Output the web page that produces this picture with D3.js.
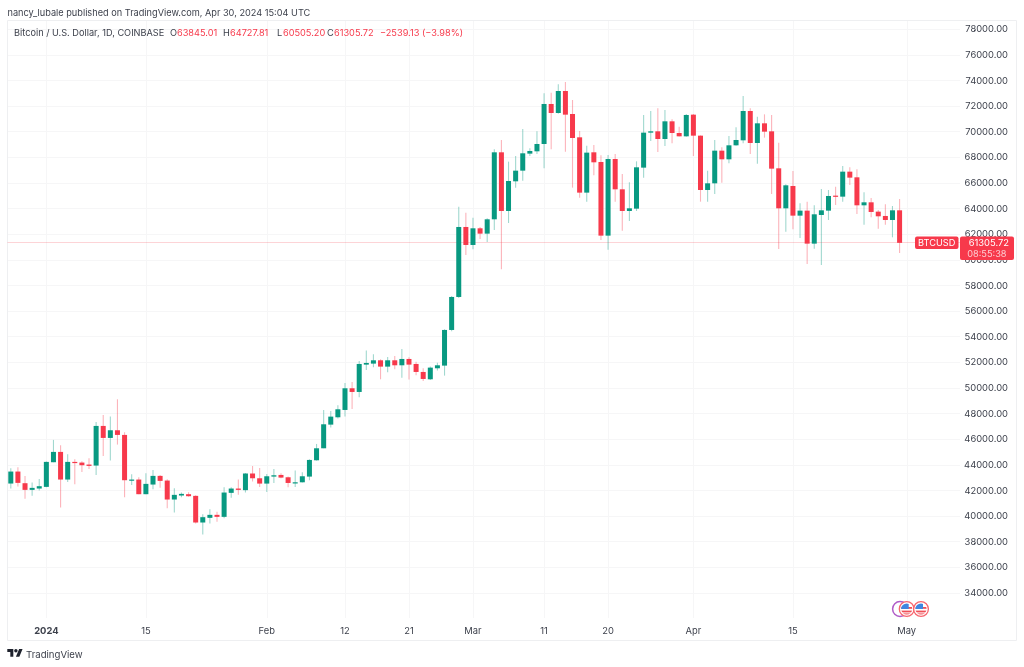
<!DOCTYPE html>
<html><head><meta charset="utf-8">
<script src="https://cdn.jsdelivr.net/npm/d3@7/dist/d3.min.js"></script>
<style>
html,body{margin:0;padding:0;background:#fff}
svg{display:block;filter:blur(.3px)}
text{font-family:Inter,Roboto,"Liberation Sans",sans-serif}
</style></head><body>
<svg id="c" width="1024" height="667"></svg>
<script>
const firstDay = "2023-12-27";
const opens  = [42514,43450,42540,42020,42124,42254,44178,44984,42826,44204,44152,43996,43918,47012,46076,46674,46310,42748,42826,41682,42436,43112,42748,41266,41578,41682,41552,39472,39836,40070,39914,41786,42124,41998,43298,42926,42510,43056,43186,43004,42534,42612,43056,44330,45267,47114,47687,48259,49951,49664,51798,51876,52136,51642,52136,51746,52240,51850,51226,50653,51512,51720,54504,57080,62544,61139,62440,62024,63143,68373,63793,66109,66941,68269,68451,69023,72146,71443,73160,71365,69543,65225,68373,67618,61868,67852,65484,63793,63975,67176,69908,70012,69413,70792,69881,69621,71313,69673,65432,65952,68502,67826,68919,69309,71599,69101,70636,70011,67123,64001,65744,63429,63819,61243,63481,63819,64990,64911,66863,66421,64235,64469,63741,63403,63090,63845.01];
const highs  = [43710,43790,43112,42592,42878,44230,45920,45504,44802,44412,44256,44490,47324,47870,47740,49092,46518,43242,43008,43320,43580,43190,42852,42150,41812,41838,41604,40122,40512,40304,42228,42228,42826,43330,43888,43730,43264,43654,43316,43056,43524,43394,44408,45605,48259,48181,48623,50367,50445,52084,52891,52605,52214,52396,52474,53021,52370,52032,51512,51642,51954,54560,57150,64131,63663,63273,62544,63221,68607,69335,67644,68087,70194,68685,70012,72978,73030,73681,73863,72458,70038,68893,68945,68139,68165,68243,66681,66031,67670,71287,71599,71807,71677,70948,70376,71365,71365,69700,66941,69335,68762,69647,70324,72770,71807,71156,71338,71286,69127,65874,66915,64391,64521,64235,65510,65432,65692,67305,67201,67045,65250,64807,63871,64313,64183,64727.81];
const lows   = [42124,42280,41318,41552,41968,42228,44178,40642,42644,42462,43424,43658,43190,44672,44308,45556,41448,42410,41682,41682,42072,42176,40590,40252,41448,41474,39394,38536,39394,39524,39810,41396,41630,41806,42665,42250,41858,42560,42926,42224,42250,42586,42770,44304,45267,46880,47583,47739,48337,49248,51382,51590,50653,51200,51434,50783,50627,50965,50523,50601,51330,50939,54400,57000,60358,60801,61608,61373,62310,59240,62856,65615,66161,68087,68243,67124,68607,71391,68425,65615,64834,64522,66577,61529,60775,64522,62258,63013,63793,66395,69257,68399,68867,69075,69600,69595,68086,64521,64521,65120,66004,67514,68893,69075,68242,67488,69517,65120,60826,62180,62362,61685,59656,60852,59578,63090,64261,64521,65822,63559,62726,63299,62414,62726,61737,60505.20];
const closes = [43450,42566,42020,42176,42306,44204,44984,42826,44204,44152,43944,43892,47012,46076,46674,46310,42774,42826,41682,42488,43112,42722,41266,41630,41708,41526,39472,39888,40070,39914,41812,42124,42020,43298,42926,42510,43082,43160,42978,42560,42612,43082,44356,45267,47140,47739,48311,49951,49664,51850,51928,52136,51642,52136,51746,52240,51798,51226,50679,51564,51746,54504,57080,62544,61139,62440,62024,63143,68373,63793,66135,66941,68295,68477,69023,72146,71443,73160,71313,69491,65225,68347,67592,61868,67852,65484,63793,64001,67202,69908,70012,69413,70792,69881,69621,71287,69673,65432,65952,68502,67826,68919,69335,71599,69101,70636,69985,67097,64001,65796,63429,63819,61243,63533,63845,64964,64938,66863,66395,64235,64469,63715,63377,63090,63845,61305.72];
const priceTicks = [34000,36000,38000,40000,42000,44000,46000,48000,50000,52000,54000,56000,58000,60000,62000,64000,66000,68000,70000,72000,74000,76000,78000];
const dateTicks = ["2024-01-01","2024-01-15","2024-02-01","2024-02-12","2024-02-21","2024-03-01","2024-03-11","2024-03-20","2024-04-01","2024-04-15","2024-05-01"];
const dateLabels = ["2024","15","Feb","12","21","Mar","11","20","Apr","15","May"];
const headerTitle = "nancy_lubale published on TradingView.com, Apr 30, 2024 15:04 UTC";
const legendName = "Bitcoin / U.S. Dollar, 1D, COINBASE";
const legendLetters = ["O","H","L","C"];
const legendValues = ["63845.01","64727.81","60505.20","61305.72"];
const legendChange = "\u22122539.13 (\u22123.98%)";
const symbol = "BTCUSD";
const lastPrice = 61305.72;
const countdown = "08:55:38";

const UP="#089981", DOWN="#F7394B", TXT="#3d414c";
const svg=d3.select("#c");
const parse=d3.utcParse("%Y-%m-%d");
const t0=parse(firstDay);
const days=opens.map((_,i)=>d3.utcDay.offset(t0,i));
const x=d3.scaleUtc().domain([t0,parse("2024-05-01")]).range([10.8,906.7]);
const y=d3.scaleLinear().domain([34000,78000]).range([592.6,29]);
const L=7.5,R=960,T=20.5,B=618,F=640.5,RR=1016.5;

// grid
const g=svg.append("g");
g.selectAll(".h").data(priceTicks).join("line").attr("x1",L).attr("x2",R)
 .attr("y1",d=>Math.round(y(d))+.5).attr("y2",d=>Math.round(y(d))+.5).attr("stroke","#f6f6f7");
g.selectAll(".v").data(dateTicks).join("line").attr("y1",T).attr("y2",B)
 .attr("x1",d=>Math.round(x(parse(d)))+.5).attr("x2",d=>Math.round(x(parse(d)))+.5).attr("stroke","#f6f6f7");
// frame
const fr=[[L,T,L,F],[L,T,RR,T],[L,F,RR,F],[RR,T,RR,F]];
svg.selectAll(".fr").data(fr).join("line").attr("x1",d=>d[0]).attr("y1",d=>d[1]).attr("x2",d=>d[2]).attr("y2",d=>d[3]).attr("stroke","#eeeff1");

// price line
svg.append("line").attr("x1",L).attr("x2",R).attr("y1",Math.round(y(lastPrice))-.5).attr("y2",Math.round(y(lastPrice))-.5)
 .attr("stroke","#f7394b").attr("stroke-opacity",.22);

// candles
const bw=5;
const c=svg.append("g").selectAll("g").data(days).join("g");
c.append("line").attr("x1",d=>x(d)).attr("x2",d=>x(d))
 .attr("y1",(d,i)=>y(highs[i])).attr("y2",(d,i)=>y(lows[i]))
 .attr("stroke",(d,i)=>closes[i]>=opens[i]?UP:DOWN).attr("stroke-opacity",.38).attr("stroke-width",1.1);
c.append("rect").attr("x",d=>x(d)-bw/2).attr("width",bw)
 .attr("y",(d,i)=>y(Math.max(opens[i],closes[i])))
 .attr("height",(d,i)=>Math.max(1.2,Math.abs(y(opens[i])-y(closes[i]))))
 .attr("fill",(d,i)=>closes[i]>=opens[i]?UP:DOWN);

// price axis labels
svg.append("g").selectAll("text").data(priceTicks).join("text")
 .attr("x",1008).attr("y",d=>y(d)+3.4).attr("text-anchor","end").attr("font-size",9.4).attr("fill",TXT)
 .text(d=>d3.format(".2f")(d));

// date labels
svg.append("g").selectAll("text").data(dateTicks).join("text")
 .attr("x",d=>x(parse(d))).attr("y",633.5).attr("text-anchor","middle").attr("font-size",9.4).attr("fill",TXT)
 .attr("font-weight",(d,i)=>i==0?700:400).text((d,i)=>dateLabels[i]);

// header
svg.append("text").attr("x",7.5).attr("y",15.5).attr("font-size",9.2).attr("fill",TXT).text(headerTitle);
const legendLetterX=[170,223,277,327], legendValueX=[177,230,283,334];
const lgd=svg.append("g").attr("font-size",9.2);
lgd.append("text").attr("x",14).attr("y",35.5).attr("fill",TXT).text(legendName);
lgd.selectAll(".l").data(legendLetters).join("text").attr("x",(d,i)=>legendLetterX[i]).attr("y",35.5).attr("fill",TXT).text(d=>d);
lgd.selectAll(".v").data(legendValues).join("text").attr("x",(d,i)=>legendValueX[i]).attr("y",35.5).attr("fill","#F7394B").text(d=>d);
lgd.append("text").attr("x",380).attr("y",35.5).attr("fill","#F7394B").text(legendChange);

// last price labels
const ly=y(lastPrice);
svg.append("rect").attr("x",915).attr("y",ly-6.3).attr("width",43.5).attr("height",12.5).attr("rx",2).attr("fill",DOWN);
svg.append("text").attr("x",936.7).attr("y",ly+3.4).attr("text-anchor","middle").attr("font-size",9.2).attr("fill","#fff").text(symbol);
svg.append("rect").attr("x",960).attr("y",ly-6.3).attr("width",54).attr("height",23.5).attr("rx",2).attr("fill",DOWN);
svg.append("text").attr("x",1009).attr("y",ly+3.4).attr("text-anchor","end").attr("font-size",9.4).attr("fill","#fff").text(d3.format(".2f")(lastPrice));
svg.append("text").attr("x",1006.5).attr("y",ly+13.8).attr("text-anchor","end").attr("font-size",9.2).attr("fill","#fff").attr("fill-opacity",.75).text(countdown);

// event icons
const pg=svg.append("g").attr("transform","translate(900,609)");
pg.append("circle").attr("r",7.4).attr("fill","#fff").attr("stroke","#b05cc8").attr("stroke-width",1.5);
[906.7,921].forEach(cx=>{
  const e=svg.append("g").attr("transform",`translate(${cx},609)`);
  e.append("circle").attr("r",7.4).attr("fill","#fff").attr("stroke","#f7666f").attr("stroke-width",1.3);
  e.append("clipPath").attr("id","f"+Math.round(cx)).append("circle").attr("r",5.6);
  const k=e.append("g").attr("clip-path",`url(#f${Math.round(cx)})`);
  k.append("rect").attr("x",-6).attr("y",-6).attr("width",12).attr("height",12).attr("fill","#fff");
  [-2,1.6,4.4].forEach(s=>k.append("rect").attr("x",-6).attr("y",s).attr("width",12).attr("height",1.8).attr("fill","#ef4f57"));
  k.append("rect").attr("x",-6).attr("y",-6).attr("width",8).attr("height",6).attr("fill","#3f86e0");
});

// logo
const lo=svg.append("g").attr("transform","translate(7.3,647.3) scale(.43)").attr("fill","#1e222d");
lo.append("path").attr("d","M14 22H7V11H0V4h14v18zM28 22h-8l7.5-18h8L28 22z");
lo.append("circle").attr("cx",20).attr("cy",8).attr("r",4);
svg.append("text").attr("x",26).attr("y",657.5).attr("font-size",9.6).attr("fill",TXT).text("TradingView");
</script></body></html>
